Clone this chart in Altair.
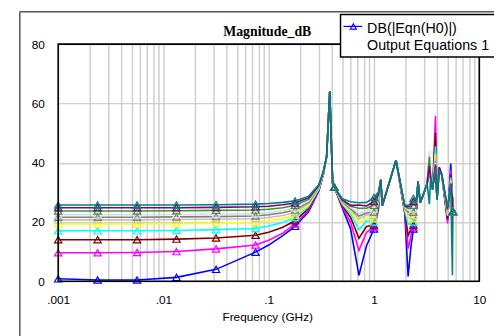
import altair as alt
import pandas as pd

# ---- data ----
FREQ = [0.001, 0.00237, 0.00562, 0.0133, 0.0316, 0.075, 0.1, 0.136, 0.178, 0.24, 0.3,
        0.33, 0.355, 0.38, 0.405, 0.42,
        0.5, 0.6, 0.72, 0.85, 1.0, 1.1,
        1.16, 1.2, 1.62,
        1.96, 2.11, 2.25, 2.37, 2.55,
        2.62, 2.75, 3.0, 3.2,
        3.36, 3.45, 3.6, 3.84, 3.97, 4.17, 4.4, 5.0, 5.36, 5.56, 5.62, 5.76, 6.0]
MARKER_IDX = [0, 1, 2, 3, 4, 5, 8, 15, 20, 28, 44]

blue = [0.8, 0.4, 0.4, 1.3, 4.0, 9.8, 12.2, 15.4, 18.5, 23.5, 30.5,
        36.0, 42, 64, 33, 31.7,
        24.7, 17.6, 2.0, 12.0, 17.6, 24.0,
        34.2, 25.5, 40.8,
        23.0, 1.6, 12.0, 17.6, 25.0,
        33.7, 26.5, 30, 33,
        36, 35, 31, 38, 27.6, 37.5, 36, 20.5, 39.7, 28, 23.5, 23.5, 23.5]
magenta = [9.6, 9.6, 9.7, 10.0, 10.9, 12.2, 13.8, 16.2, 19.3, 24.0, 30.8,
           36.1, 42, 64, 33, 31.7,
           25.2, 19.8, 10.4, 16.5, 18.2, 24.6,
           34.2, 25.5, 40.8,
           23.3, 11.0, 15.5, 18.2, 25.3,
           33.7, 26.5, 30, 33,
           37, 35, 31, 55.8, 27.6, 38.3, 36, 19.5, 37.5, 28, 23.5, 23.5, 23.5]
darkred = [14.0, 14.0, 14.0, 14.2, 14.6, 15.5, 16.5, 18.2, 20.4, 24.6, 31.0,
           36.2, 42, 64, 33, 31.7,
           25.6, 21.5, 14.5, 18.5, 19.0, 25.2,
           34.2, 25.5, 40.8,
           23.6, 15.4, 17.5, 19.0, 25.6,
           33.7, 26.5, 30, 33,
           38, 35, 31, 50, 27.6, 38, 36, 21, 36, 28, 23.5, 23.5, 23.5]
cyan = [17.0, 17.0, 17.0, 17.1, 17.4, 17.8, 18.6, 19.8, 21.5, 25.2, 31.2,
        36.3, 42, 64, 33, 31.7,
        26.0, 22.6, 17.4, 20.3, 20.0, 25.8,
        34.2, 25.5, 40.8,
        23.9, 19.3, 19.5, 20.0, 25.9,
        33.7, 26.5, 30, 33,
        39, 35, 31, 45.5, 27.6, 37.8, 36, 22, 35, 28, 23.5, 23.5, 23.5]
yellow = [19.3, 19.3, 19.3, 19.4, 19.6, 19.9, 20.4, 21.2, 22.3, 25.7, 31.4,
          36.4, 42, 64, 33, 31.7,
          26.3, 23.4, 19.6, 21.5, 21.1, 26.4,
          34.2, 25.5, 40.8,
          24.2, 21.5, 20.8, 21.1, 26.2,
          33.7, 26.5, 30, 33,
          40, 35, 31, 43, 27.6, 37.6, 36, 22.5, 34, 28, 23.5, 23.5, 23.5]
silver = [20.7, 20.7, 20.7, 20.8, 20.9, 21.1, 21.5, 22.2, 23.2, 26.2, 31.6,
          36.5, 42, 64, 33, 31.7,
          26.6, 24.0, 21.0, 22.4, 22.2, 27.0,
          34.2, 25.5, 40.8,
          24.5, 22.6, 21.8, 22.2, 26.5,
          33.7, 26.5, 30, 33,
          43, 35, 31, 41.5, 27.6, 37.5, 36, 23, 33.5, 28, 23.5, 23.5, 23.5]
gray = [21.6, 21.6, 21.6, 21.7, 21.8, 22.0, 22.4, 23.1, 24.0, 26.7, 31.8,
        36.6, 42, 64, 33, 31.7,
        26.8, 24.5, 22.0, 23.0, 23.3, 27.6,
        34.2, 25.5, 40.8,
        24.8, 23.4, 22.8, 23.3, 26.8,
        33.7, 26.5, 30, 33,
        41, 35, 31, 40.5, 27.6, 37.5, 36, 23.5, 33.2, 28, 23.5, 23.5, 23.5]
lightgray = [22.4, 22.4, 22.4, 22.5, 22.6, 22.8, 23.1, 23.8, 24.8, 27.2, 32.0,
             36.7, 42, 64, 33, 31.7,
             27.0, 24.9, 23.0, 23.7, 24.4, 28.2,
             34.2, 25.5, 40.8,
             25.0, 24.0, 23.6, 24.4, 27.1,
             33.7, 26.5, 30, 33,
             44, 35, 31, 40, 27.6, 37.5, 36, 23.5, 33, 28, 23.5, 23.5, 23.5]
green = [23.7, 23.7, 23.7, 23.8, 23.9, 24.0, 24.3, 24.8, 25.6, 27.7, 32.2,
         36.8, 42, 64, 33, 31.7,
         27.2, 25.3, 24.6, 24.6, 25.6, 28.8,
         34.2, 25.5, 40.8,
         25.2, 24.6, 24.5, 25.6, 27.4,
         33.7, 26.5, 30, 33,
         42, 35, 31, 39.5, 27.6, 37.5, 36, 24, 33, 28, 23.5, 23.5, 23.5]
purple = [24.8, 24.8, 24.8, 24.8, 24.9, 25.1, 25.3, 25.8, 26.4, 28.2, 32.4,
          36.9, 42, 64, 33, 31.7,
          27.5, 25.6, 25.7, 25.4, 26.9, 29.4,
          34.2, 25.5, 40.8,
          25.4, 25.1, 25.3, 26.9, 27.7,
          33.7, 26.5, 30, 33,
          39, 35, 31, 39, 27.6, 38.5, 36, 24.5, 32.8, 28, 23.5, 23.5, 23.5]
teal = [25.7, 25.7, 25.7, 25.7, 25.8, 26.0, 26.2, 26.6, 27.1, 28.7, 32.6,
        37.0, 42, 64, 33, 31.7,
        27.8, 26.8, 26.5, 26.6, 28.3, 30.0,
        34.2, 25.5, 40.8,
        25.6, 25.6, 26.2, 28.0, 28.0,
        33.7, 26.5, 30, 33,
        26, 35, 31, 38, 27.6, 37.3, 36, 25, 32.5, 2, 23.5, 23.5, 23.5]

CURVES = [blue, magenta, darkred, cyan, yellow, silver, gray, lightgray, green, purple, teal]
CURVE_COLORS = ["#0000FF", "#FF00FF", "#800000", "#00FFFF", "#FFFF00", "#C0C0C0",
                "#808080", "#DCDCDC", "#339933", "#800080", "#008080"]
CURVE_IDS = [f"c{i:02d}" for i in range(len(CURVES))]

X_TICKS = [0.001, 0.01, 0.1, 1, 10]
X_LABELS = [".001", ".01", ".1", "1", "10"]
Y_TICKS = [0, 20, 40, 60, 80]

TITLE = "Magnitude_dB"
X_TITLE = "Frequency (GHz)"
LEGEND_LINES = ["DB(|Eqn(H0)|)", "Output Equations 1"]

# ---- build table ----
rows = []
for cid, vals in zip(CURVE_IDS, CURVES):
    for i, (f, v) in enumerate(zip(FREQ, vals)):
        rows.append({"curve": cid, "f": f, "db": v, "idx": i, "marker": i in MARKER_IDX})
df = pd.DataFrame(rows)

grid_vals = [round(m * d, 6) for d in X_TICKS[:-1] for m in range(1, 10)] + [X_TICKS[-1]]
label_expr = " : ".join(f"datum.value == {v} ? '{l}'" for v, l in zip(X_TICKS, X_LABELS)) + " : ''"

W, H = 428, 241
FONT = "Liberation Sans"
GRID = "#CFCFCF"

x_enc = alt.X("f:Q", scale=alt.Scale(type="log", domain=[0.001, 10], nice=False),
              axis=alt.Axis(values=grid_vals, labelExpr=label_expr, title=None, ticks=False,
                            domain=False, gridColor=GRID, gridWidth=1.5, labelFont=FONT,
                            labelFontSize=12, labelColor="#000", labelPadding=14,
                            labelOverlap=False, labelFlush=False))
y_enc = alt.Y("db:Q", scale=alt.Scale(domain=[0, 80], nice=False),
              axis=alt.Axis(values=Y_TICKS, title=None, ticks=False, domain=False,
                            gridColor=GRID, gridWidth=1.5, labelFont=FONT, labelFontSize=12,
                            labelColor="#000", labelPadding=14))
color_enc = alt.Color("curve:N", scale=alt.Scale(domain=CURVE_IDS, range=CURVE_COLORS), legend=None)

base = alt.Chart(df)
lines = base.mark_line(strokeWidth=1.6).encode(x=x_enc, y=y_enc, color=color_enc,
                                               order=alt.Order("idx:Q"))
points = base.transform_filter("datum.marker").mark_point(
    shape="triangle-up", filled=False, size=55, strokeWidth=1.2, opacity=1
).encode(x="f:Q", y="db:Q", color=color_enc)

one = pd.DataFrame({"a": [0]})
ann = alt.Chart(one)

frame = ann.mark_rect(fillOpacity=0, stroke="#000", strokeWidth=1.6).encode(
    x=alt.value(0), x2=alt.value(W), y=alt.value(0), y2=alt.value(H))
outer_left = ann.mark_rule(color="#555", strokeWidth=1.5).encode(
    x=alt.value(-39), y=alt.value(-33), y2=alt.value(300))
outer_top = ann.mark_rule(color="#555", strokeWidth=1.5).encode(
    x=alt.value(-39), x2=alt.value(460), y=alt.value(-33))
leg_box = ann.mark_rect(fill="white", stroke="#000", strokeWidth=1.5).encode(
    x=alt.value(287), x2=alt.value(450), y=alt.value(-30), y2=alt.value(13))
leg_line = ann.mark_rule(color="#0000FF", strokeWidth=1.2).encode(
    x=alt.value(290), x2=alt.value(309), y=alt.value(-18))
leg_pt = ann.mark_point(shape="triangle-up", filled=False, color="#0000FF", size=40,
                        strokeWidth=1.1, opacity=1).encode(x=alt.value(300), y=alt.value(-18))
leg_t1 = ann.mark_text(align="left", baseline="middle", font=FONT, fontSize=14.5, color="#000").encode(
    x=alt.value(314), y=alt.value(-15), text=alt.value(LEGEND_LINES[0]))
leg_t2 = ann.mark_text(align="left", baseline="middle", font=FONT, fontSize=14.5, color="#000").encode(
    x=alt.value(314), y=alt.value(2), text=alt.value(LEGEND_LINES[1]))
title = ann.mark_text(align="center", baseline="middle", font="Liberation Serif", fontWeight="bold",
                      fontSize=14, color="#000").encode(
    x=alt.value(212.5), y=alt.value(-12.5), text=alt.value(TITLE))
xtitle = ann.mark_text(align="center", baseline="middle", font=FONT, fontSize=12, color="#000").encode(
    x=alt.value(213), y=alt.value(277), text=alt.value(X_TITLE))

chart = alt.layer(lines, points, frame, outer_left, outer_top, leg_box, leg_line, leg_pt,
                  leg_t1, leg_t2, title, xtitle).properties(
    width=W, height=H,
    autosize=alt.AutoSizeParams(type="none"),
    padding={"left": 51, "top": 34, "right": 15, "bottom": 53},
    background="white",
).configure_view(stroke="transparent")

chart.save("out.html", embed_options={"renderer": "svg", "actions": False})
